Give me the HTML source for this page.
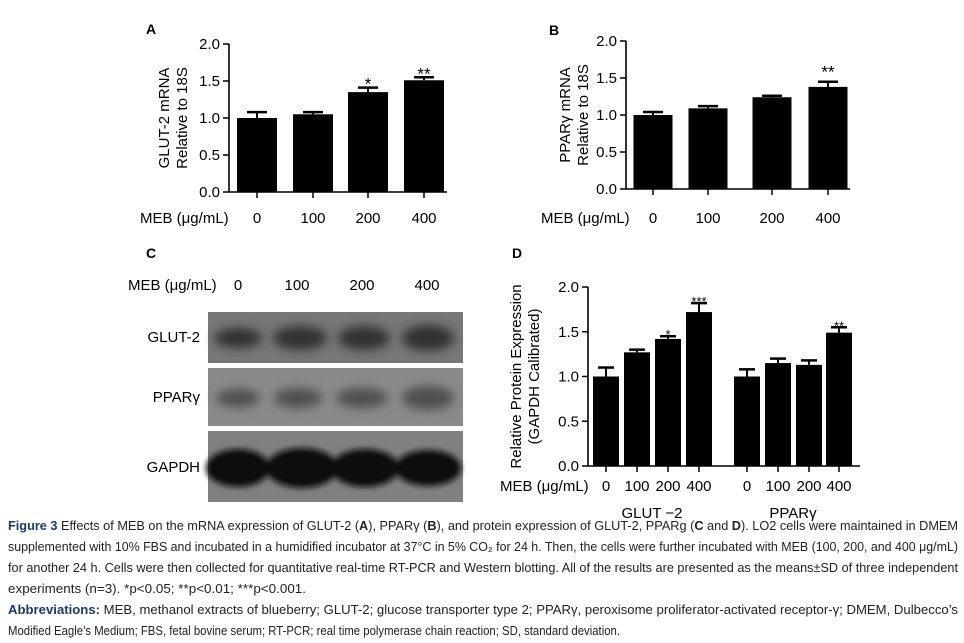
<!DOCTYPE html>
<html><head><meta charset="utf-8"><style>
html,body{margin:0;padding:0;background:#fff;}
svg{display:block;font-family:"Liberation Sans",Arial,sans-serif;}
</style></head><body>
<svg id="fig" width="964" height="643" viewBox="0 0 964 643">
<defs>
<filter id="blur" x="-30%" y="-60%" width="160%" height="220%"><feGaussianBlur stdDeviation="5"/></filter>
<filter id="blur2" x="-30%" y="-60%" width="160%" height="220%"><feGaussianBlur stdDeviation="3"/></filter>
</defs>
<g id="pa"></g>
<g id="pb"></g>
<g id="pc">
<text x="146" y="258" font-size="14" font-weight="bold">C</text>
<text x="128" y="290" font-size="15">MEB (μg/mL)</text>
<text x="238" y="290" font-size="15" text-anchor="middle">0</text>
<text x="297" y="290" font-size="15" text-anchor="middle">100</text>
<text x="362" y="290" font-size="15" text-anchor="middle">200</text>
<text x="427" y="290" font-size="15" text-anchor="middle">400</text>
<text x="200" y="342" font-size="15" text-anchor="end">GLUT-2</text>
<text x="200" y="402" font-size="15" text-anchor="end">PPARγ</text>
<text x="200" y="472" font-size="15" text-anchor="end">GAPDH</text>
<g>
<rect x="208" y="312" width="255" height="51" fill="#777"/>
<g filter="url(#blur)" fill="#333"><ellipse cx="238" cy="338" rx="24" ry="10"/><ellipse cx="300" cy="338" rx="27" ry="12"/><ellipse cx="364" cy="338" rx="26" ry="12"/><ellipse cx="428" cy="338" rx="26" ry="13"/></g>
</g>
<g>
<rect x="208" y="368" width="255" height="58" fill="#8a8a8a"/>
<g filter="url(#blur)" fill="#505050"><ellipse cx="238" cy="398" rx="22" ry="9"/><ellipse cx="298" cy="398" rx="24" ry="10"/><ellipse cx="362" cy="398" rx="26" ry="10"/><ellipse cx="428" cy="398" rx="26" ry="12"/></g>
</g>
<g>
<rect x="208" y="431" width="255" height="71" fill="#808080"/>
<g filter="url(#blur2)" fill="#0d0d0d"><ellipse cx="238" cy="468" rx="32" ry="19"/><ellipse cx="302" cy="468" rx="36" ry="20"/><ellipse cx="365" cy="468" rx="34" ry="19"/><ellipse cx="428" cy="468" rx="33" ry="18"/></g>
</g>
</g>
<g id="pd"></g>
<g id="cap" font-size="12.5" fill="#222">
<text x="8" y="530" textLength="950" lengthAdjust="spacingAndGlyphs"><tspan font-weight="bold" fill="#1a3a6a">Figure 3</tspan> Effects of MEB on the mRNA expression of GLUT-2 (<tspan font-weight="bold">A</tspan>), PPARγ (<tspan font-weight="bold">B</tspan>), and protein expression of GLUT-2, PPARg (<tspan font-weight="bold">C</tspan> and <tspan font-weight="bold">D</tspan>). LO2 cells were maintained in DMEM</text>
<text x="8" y="551" textLength="950" lengthAdjust="spacingAndGlyphs">supplemented with 10% FBS and incubated in a humidified incubator at 37°C in 5% CO₂ for 24 h. Then, the cells were further incubated with MEB (100, 200, and 400 μg/mL)</text>
<text x="8" y="572" textLength="950" lengthAdjust="spacingAndGlyphs">for another 24 h. Cells were then collected for quantitative real-time RT-PCR and Western blotting. All of the results are presented as the means±SD of three independent</text>
<text x="8" y="593" textLength="298" lengthAdjust="spacingAndGlyphs">experiments (n=3). *p&lt;0.05; **p&lt;0.01; ***p&lt;0.001.</text>
<text x="8" y="614" textLength="950" lengthAdjust="spacingAndGlyphs"><tspan font-weight="bold" fill="#1a3a6a">Abbreviations:</tspan> MEB, methanol extracts of blueberry; GLUT-2; glucose transporter type 2; PPARγ, peroxisome proliferator-activated receptor-γ; DMEM, Dulbecco’s</text>
<text x="8" y="635" textLength="612" lengthAdjust="spacingAndGlyphs">Modified Eagle’s Medium; FBS, fetal bovine serum; RT-PCR; real time polymerase chain reaction; SD, standard deviation.</text>
</g>
</svg>
<script>
// Panel A data
const aCategories = ["0","100","200","400"];
const aValues = [1.0, 1.05, 1.35, 1.51];
const aErrors = [0.08, 0.03, 0.06, 0.04];
const aSig = ["", "", "*", "**"];
// Panel B data
const bCategories = ["0","100","200","400"];
const bValues = [1.0, 1.09, 1.24, 1.38];
const bErrors = [0.04, 0.03, 0.02, 0.07];
const bSig = ["", "", "", "**"];
// Panel D data
const dCategories = ["0","100","200","400","0","100","200","400"];
const dValues = [1.0, 1.27, 1.42, 1.72, 1.0, 1.15, 1.13, 1.49];
const dErrors = [0.1, 0.03, 0.03, 0.1, 0.08, 0.05, 0.05, 0.06];
const dSig = ["", "", "*", "***", "", "", "", "**"];
const yTicks = [0.0, 0.5, 1.0, 1.5, 2.0];

const NS = "http://www.w3.org/2000/svg";
function mk(parent, tag, attrs, text){
  const e = document.createElementNS(NS, tag);
  for (const k in attrs) e.setAttribute(k, attrs[k]);
  if (text !== undefined) e.textContent = text;
  parent.appendChild(e);
  return e;
}
function chart(g, o){
  const y = v => o.y0 - (v / 2) * (o.y0 - o.y2);
  const ya = mk(g, "line", {x1:o.ax, y1:o.y2, x2:o.ax, y2:o.y0, stroke:"#000", "stroke-width":1.6});
  
  
  const xa = mk(g, "line", {x1:o.ax, y1:o.y0, x2:o.axEnd, y2:o.y0, stroke:"#000", "stroke-width":1.6});
  
  
  yTicks.forEach(t => {
    mk(g, "line", {x1:o.ax-6, y1:y(t), x2:o.ax, y2:y(t), stroke:"#000", "stroke-width":1.5});
    const tl = mk(g, "text", {x:o.ax-9, y:y(t)+5, "font-size":15, "text-anchor":"end"}, t.toFixed(1));
    
    
  });
  o.values.forEach((v, i) => {
    const cx = o.xs[i];
    const b = mk(g, "rect", {x:cx - o.bw/2, y:y(v), width:o.bw, height:o.y0 - y(v), fill:"#000"});
    
    
    const top = y(v + o.errs[i]);
    mk(g, "line", {x1:cx, y1:top, x2:cx, y2:y(v), stroke:"#000", "stroke-width":2});
    const eb = mk(g, "line", {x1:cx - o.cap, y1:top, x2:cx + o.cap, y2:top, stroke:"#000", "stroke-width":2.5});
    
    
    mk(g, "line", {x1:cx, y1:o.y0, x2:cx, y2:o.y0+6, stroke:"#000", "stroke-width":1.5});
    if (o.sig[i]) {
      const s = mk(g, "text", {x:cx, y:top - o.sigOff, "font-size":o.sigSize, "text-anchor":"middle"}, o.sig[i]);
      
      
    }
    const xl = mk(g, "text", {x:cx, y:o.labY, "font-size":15, "text-anchor":"middle"}, o.cats[i]);
    
    
  });
  const m = mk(g, "text", {x:o.mebX, y:o.labY, "font-size":15}, "MEB (μg/mL)");
  
  
  const pl = mk(g, "text", {x:o.pX, y:o.pY, "font-size":14, "font-weight":"bold"}, o.panel);
  
  
  const yt = mk(g, "text", {transform:`translate(${o.ytX},${(o.y0+o.y2)/2}) rotate(-90)`, "font-size":15, "text-anchor":"middle"});
  
  
  o.yt.forEach((line, k) => mk(yt, "tspan", {x:0, dy: k===0 ? 0 : 18}, line));
}
chart(document.getElementById("pa"), {ax:229, axEnd:447, y0:192, y2:44, bw:40, cap:10, xs:[257,313,368,424],
  values:aValues, errs:aErrors, cats:aCategories, sig:aSig, sigSize:17, sigOff:-2, labY:223, mebX:140, pX:146, pY:34, panel:"A",
  ytX:169, yt:["GLUT-2 mRNA","Relative to 18S"]});
chart(document.getElementById("pb"), {ax:626, axEnd:850, y0:189, y2:41, bw:39, cap:10, xs:[653,708,772,828],
  values:bValues, errs:bErrors, cats:bCategories, sig:bSig, sigSize:17, sigOff:4, labY:223, mebX:541, pX:549, pY:35, panel:"B",
  ytX:570, yt:["PPARγ mRNA","Relative to 18S"]});
chart(document.getElementById("pd"), {ax:588, axEnd:860, y0:466, y2:287, bw:26, cap:8, xs:[606,637,668,699,747,778,809,839],
  values:dValues, errs:dErrors, cats:dCategories, sig:dSig, sigSize:13, sigOff:-3, labY:491, mebX:500, pX:512, pY:258, panel:"D",
  ytX:521, yt:["Relative Protein Expression","(GAPDH Calibrated)"]});
const pd = document.getElementById("pd");
const g1 = mk(pd, "text", {x:652, y:518, "font-size":15, "text-anchor":"middle"}, "GLUT −2");


const g2 = mk(pd, "text", {x:793, y:518, "font-size":15, "text-anchor":"middle"}, "PPARγ");


</script>
</body></html>
